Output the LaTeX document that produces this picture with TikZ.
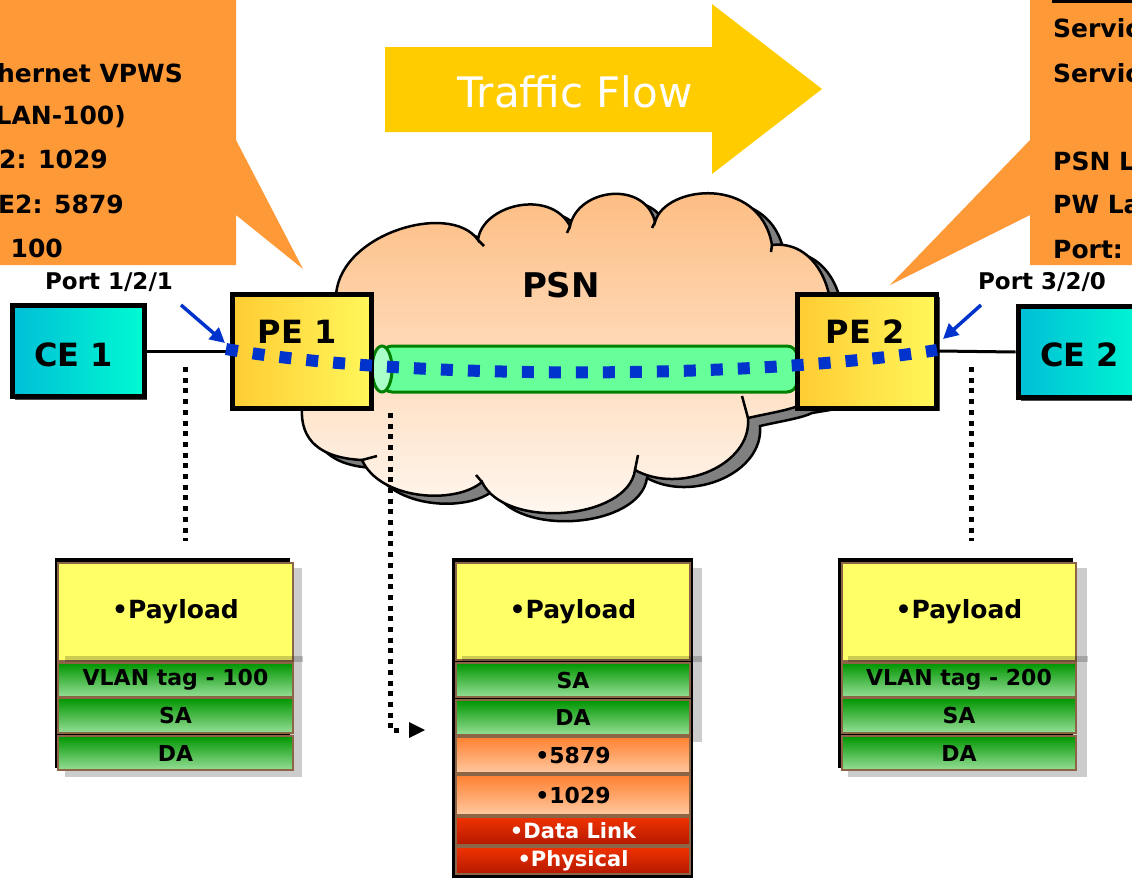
\documentclass[tikz,border=0pt]{standalone}
\usepackage{fontspec}
\setmainfont{DejaVu Sans}
\usetikzlibrary{arrows.meta,calc,shadows}
\definecolor{callout}{RGB}{254,153,56}
\definecolor{flowc}{RGB}{255,204,0}
\definecolor{cloudtop}{RGB}{253,186,125}
\definecolor{cloudbot}{RGB}{255,250,245}
\definecolor{tubefill}{RGB}{102,255,153}
\definecolor{tubeend}{RGB}{170,255,200}
\definecolor{tubeline}{RGB}{0,128,0}
\definecolor{peL}{RGB}{255,204,51}
\definecolor{peR}{RGB}{255,247,90}
\definecolor{ceL}{RGB}{0,190,215}
\definecolor{ceR}{RGB}{0,250,210}
\definecolor{blued}{RGB}{0,51,204}
\definecolor{payy}{RGB}{255,255,102}
\definecolor{brownc}{RGB}{140,100,70}
\definecolor{gtop}{RGB}{0,150,0}
\definecolor{gbot}{RGB}{150,222,150}
\definecolor{otop}{RGB}{255,128,48}
\definecolor{obot}{RGB}{255,200,160}
\definecolor{rtop}{RGB}{240,50,0}
\definecolor{rbot}{RGB}{180,25,0}
\definecolor{shgray}{RGB}{128,128,128}
\newcommand{\psncloud}{%
 (336,300) .. controls (334,235) and (450,200) .. (478,240)
 .. controls (482,205) and (550,188) .. (570,226)
 .. controls (578,188) and (645,180) .. (655,222)
 .. controls (665,185) and (760,175) .. (772,245)
 .. controls (815,240) and (838,290) .. (830,335)
 -- (830,400) -- (800,405)
 .. controls (790,410) and (770,413) .. (748,418)
 .. controls (752,465) and (680,495) .. (635,470)
 .. controls (628,520) and (505,530) .. (482,482)
 .. controls (455,505) and (380,500) .. (362,460)
 .. controls (320,458) and (300,440) .. (302,408)
 -- cycle}
\begin{document}
\begin{tikzpicture}[x=1pt,y=-1pt,
 calltext/.style={font=\fontsize{25}{30}\selectfont\bfseries, inner sep=0},
 porttext/.style={font=\fontsize{23}{27}\selectfont\bfseries, inner sep=0},
 boxtext/.style={font=\fontsize{32}{38}\selectfont\bfseries, inner sep=0},
 pebox/.style={draw=black, line width=5pt, left color=peL, right color=peR, minimum width=139pt, minimum height=114pt, inner sep=0,
   drop shadow={shadow xshift=3pt, shadow yshift=-3pt, opacity=0.7, fill=black}},
 cebox/.style={draw=black, line width=5pt, left color=ceL, right color=ceR, minimum width=132pt, minimum height=91pt, inner sep=0,
   drop shadow={shadow xshift=3pt, shadow yshift=-3pt, opacity=0.7, fill=black}},
 link/.style={line width=3pt, black},
 bluedots/.style={line width=12pt, blued, dash pattern=on 12pt off 15pt},
 bluearrow/.style={line width=3.5pt, blued, -{Triangle[length=15pt,width=15pt]}},
 blackdots/.style={line width=5pt, black, dash pattern=on 5pt off 5.7pt},
 payloadbox/.style={draw=brownc, line width=2.5pt, fill=payy, minimum width=235pt, minimum height=98pt, inner sep=0,
   font=\fontsize{25}{30}\selectfont\bfseries},
 greenrow/.style={draw=brownc, line width=2.5pt, top color=gtop, bottom color=gbot, minimum width=235pt, minimum height=34pt, inner sep=0,
   font=\fontsize{22}{26}\selectfont\bfseries},
 orangerow/.style={draw=brownc, line width=2.5pt, top color=otop, bottom color=obot, minimum width=235pt, minimum height=36pt, inner sep=0,
   font=\fontsize{22}{26}\selectfont\bfseries},
 redrow/.style={draw=brownc, line width=2.5pt, top color=rtop, bottom color=rbot, minimum width=235pt, minimum height=28pt, inner sep=0,
   text=white, font=\fontsize{21}{25}\selectfont\bfseries},
 stackframe/.style={fill=black},
 lshadow/.style={fill=black, opacity=0.2},
]
\useasboundingbox (0,0) rectangle (1132,881);

% traffic flow arrow
\fill[flowc] (385,47) -- (712,47) -- (712,4) -- (822,89) -- (712,174) -- (712,132) -- (385,132) -- cycle;
\node[anchor=base, text=white, font=\fontsize{42}{46}\selectfont, inner sep=0] (flow) at (575,107) {Traffic Flow};

% cloud
\begin{scope}[shift={(12,8)}]
\draw[line width=2.5pt, fill=shgray] \psncloud;
\end{scope}
\draw[line width=2.5pt, top color=cloudtop, bottom color=cloudbot] \psncloud;
\draw[line width=2.5pt] (478,240) -- (484,246);
\draw[line width=2.5pt] (570,226) -- (567,233);
\draw[line width=2.5pt] (655,222) -- (652,228);
\draw[line width=2.5pt] (772,245) -- (771,252);
\draw[line width=2.5pt] (748,418) -- (742,396);
\draw[line width=2.5pt] (635,470) -- (638,455);
\draw[line width=2.5pt] (482,482) -- (476,475);
\draw[line width=2.5pt] (362,460) -- (377,456);
\node[anchor=base, font=\fontsize{34}{40}\selectfont\bfseries, inner sep=0] (psn) at (561,297) {PSN};

% callouts
\fill[callout] (-5,-5) -- (236,-5) -- (236,140) -- (303,269) -- (236,215) -- (236,265) -- (-5,265) -- cycle;
\fill[callout] (1030,-5) -- (1140,-5) -- (1140,265) -- (1030,265) -- (1030,215) -- (890,285) -- (1030,140) -- cycle;
\draw[line width=3pt] (1052,1) -- (1140,1);
\node[calltext, anchor=base east] (l1) at (183,82) {hernet VPWS};
\node[calltext, anchor=base east] (l2) at (126,124) {LAN-100)};
\node[calltext, anchor=base east] (l3) at (108,168) {2: 1029};
\node[calltext, anchor=base east] (l4) at (124,213) {E2: 5879};
\node[calltext, anchor=base east] (l5) at (63,257) {100};
\node[calltext, anchor=base west] (r1) at (1053,37) {Servic};
\node[calltext, anchor=base west] (r2) at (1053,82) {Servic};
\node[calltext, anchor=base west] (r3) at (1053,170) {PSN L};
\node[calltext, anchor=base west] (r4) at (1053,213) {PW La};
\node[calltext, anchor=base west] (r5) at (1053,258) {Port:};

% pseudowire tube
\draw[line width=3pt, draw=tubeline, fill=tubefill, rounded corners=10pt] (382,346) rectangle (797,392);
\draw[line width=3pt, draw=tubeline, fill=tubeend] (382,369) ellipse (10 and 23);

% boxes
\node[cebox] (ce1) at (78,351) {};
\node[pebox] (pe1) at (301.5,351) {};
\node[pebox] (pe2) at (867,351) {};
\node[cebox] (ce2) at (1084,352) {};
\node[boxtext, anchor=base] (ce1t) at (73.5,366) {CE 1};
\node[boxtext, anchor=base] (pe1t) at (297,343) {PE 1};
\node[boxtext, anchor=base] (pe2t) at (865,343) {PE 2};
\node[boxtext, anchor=base] (ce2t) at (1079.5,366) {CE 2};
\draw[link] (ce1.east) -- (pe1.west);
\draw[link] (pe2.east) -- (ce2.west);

% blue dotted path
\coordinate (b1) at (226,349);
\coordinate (b2) at (937,350);
\draw[bluedots] (b1) .. controls (400,380) and (750,380) .. (b2);

% port labels and arrows
\node[porttext] (port1) at (109,282) {Port 1/2/1};
\node[porttext] (port2) at (1042,282) {Port 3/2/0};
\coordinate (a1s) at (181,305);
\coordinate (a1e) at (225,343);
\coordinate (a2s) at (981,305);
\coordinate (a2e) at (943,339);
\draw[bluearrow] (a1s) -- (a1e);
\draw[bluearrow] (a2s) -- (a2e);

% dotted drop lines
\coordinate (d1a) at (185,367);
\coordinate (d1b) at (185,541);
\coordinate (d2a) at (971,367);
\coordinate (d2b) at (971,541);
\coordinate (d3a) at (390,413);
\coordinate (d3b) at (390,730);
\coordinate (d3c) at (404,730);
\draw[blackdots] (d1a) -- (d1b);
\draw[blackdots] (d2a) -- (d2b);
\draw[blackdots] (d3a) -- (d3b) -- (d3c);
\fill (409,722) -- (425,730) -- (409,738) -- cycle;

% left stack
\fill[stackframe] (55,558) rectangle (290,768);
\fill[lshadow] (65,568) rectangle (302,777);
\node[payloadbox] (lp) at (175.5,612) {•Payload};
\fill[lshadow] (65,656) rectangle (303,662);
\node[greenrow] (lv) at (175.5,680) {VLAN tag - 100};
\node[greenrow, minimum height=35pt] (ls) at (175.5,715.5) {SA};
\node[greenrow] (ld) at (175.5,753) {DA};

% middle stack
\fill[stackframe] (452,558) rectangle (693,878);
\fill[lshadow] (462,568) rectangle (702,742);
\node[payloadbox, minimum width=234pt, minimum height=97pt] (mp) at (573,611.5) {•Payload};
\fill[lshadow] (462,656) rectangle (702,662);
\node[greenrow, minimum width=234pt] (ms) at (573,680) {SA};
\node[greenrow, minimum width=234pt, minimum height=35pt] (md) at (573,717.5) {DA};
\node[orangerow, minimum width=234pt] (m1) at (573,755) {•5879};
\node[orangerow, minimum width=234pt, minimum height=40pt] (m2) at (573,795) {•1029};
\node[redrow, minimum width=234pt] (m3) at (573,831) {•Data Link};
\node[redrow, minimum width=234pt, minimum height=27pt] (m4) at (573,860.5) {•Physical};

% right stack
\fill[stackframe] (838,558) rectangle (1073,768);
\fill[lshadow] (848,568) rectangle (1087,777);
\node[payloadbox, minimum width=234pt] (rp) at (959,612) {•Payload};
\fill[lshadow] (848,656) rectangle (1088,662);
\node[greenrow, minimum width=234pt] (rv) at (959,680) {VLAN tag - 200};
\node[greenrow, minimum width=234pt, minimum height=35pt] (rs) at (959,715.5) {SA};
\node[greenrow, minimum width=234pt] (rd) at (959,753) {DA};
\end{tikzpicture}
\end{document}
